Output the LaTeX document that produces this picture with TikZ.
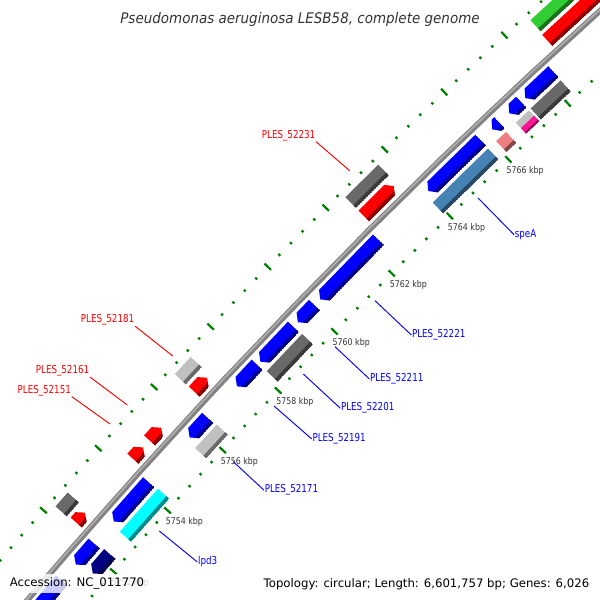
\documentclass[tikz,border=0pt]{standalone}
\usepackage{fontspec}
\setmainfont{DejaVu Sans}
\newfontfamily\genefont[FakeStretch=0.8]{DejaVu Sans}
\newfontfamily\tickfont[FakeStretch=0.85]{DejaVu Sans}
\newfontfamily\titlefont[FakeStretch=0.92]{DejaVu Sans}
\usepackage{xcolor}
\usepackage{tikz}

\definecolor{genered}{RGB}{255,0,0}
\definecolor{geneblue}{RGB}{0,0,255}
\definecolor{genenavy}{RGB}{0,0,128}
\definecolor{genedim}{RGB}{105,105,105}
\definecolor{genesilver}{RGB}{192,192,192}
\definecolor{genecyan}{RGB}{0,255,255}
\definecolor{genesteel}{RGB}{70,130,180}
\definecolor{genecoral}{RGB}{240,128,128}
\definecolor{genepink}{RGB}{255,20,147}
\definecolor{genelime}{RGB}{50,205,50}
\definecolor{tickgreen}{RGB}{0,128,0}

\def\rzero{6311}
\def\thzero{135.86}
\def\kdeg{0.373}
\def\kpx{41.09}

\newcommand{\gene}[6][7.5]{%
  \pgfmathsetmacro\gth{\thzero-\kdeg*(#2-5760)}%
  \pgfmathsetmacro\glen{\kpx*(#3-#2)}%
  \pgfmathsetmacro\glo{#4-#1}%
  \pgfmathsetmacro\ghi{#4+#1}%
  \pgfmathsetmacro\gbev{#4-#1/2}%
  \pgfmathsetmacro\ghd{min(6,\glen)}%
  \begin{scope}[shift={(O)},shift={(\gth:\rzero)},rotate=\gth-90]
    \ifnum#6=1\relax
      \clip (0,\glo) -- (\glen-\ghd,\glo) -- (\glen,#4) -- (\glen-\ghd,\ghi) -- (0,\ghi) -- cycle;
    \else\ifnum#6=-1\relax
      \clip (\glen,\glo) -- (\ghd,\glo) -- (0,#4) -- (\ghd,\ghi) -- (\glen,\ghi) -- cycle;
    \else
      \clip (0,\glo) rectangle (\glen,\ghi);
    \fi\fi
    \fill[#5] (0,\glo) rectangle (\glen,\ghi);
    \fill[#5!55!black] (0,\glo) rectangle (\glen,\gbev);
  \end{scope}}

\begin{document}
\begin{tikzpicture}[x=0.03cm,y=0.03cm]
  \tikzstyle{backbone}=[draw={rgb,255:red,130;green,130;blue,130},line width=4.9pt]
  \tikzstyle{backlight}=[draw={rgb,255:red,175;green,175;blue,175},line width=1.4pt]
  \tikzstyle{tickmark}=[draw=tickgreen,line width=1.9pt]
  \tikzstyle{ticklab}=[font=\tickfont\fontsize{7.9}{9}\selectfont,text=black!80,inner sep=0pt]
  \tikzstyle{redlab}=[font=\genefont\fontsize{9.3}{11}\selectfont,text=red,inner sep=0.5pt]
  \tikzstyle{bluelab}=[font=\genefont\fontsize{9.3}{11}\selectfont,text=blue,inner sep=0.5pt]
  \tikzstyle{redlead}=[draw=red,line width=0.8pt]
  \tikzstyle{bluelead}=[draw=blue,line width=0.8pt]
  \tikzstyle{info}=[font=\fontsize{10}{12}\selectfont,fill=white,fill opacity=0.8,text opacity=1,inner xsep=4.3pt,inner ysep=3.4pt]

  \useasboundingbox (0,0) rectangle (600,600);
  \clip (0,0) rectangle (600,600);
  \coordinate (O) at (4830,-4094);

  \begin{scope}[shift={(O)}]
    \foreach \k in {0,...,60}{
      \pgfmathsetmacro\tth{\thzero-\kdeg*(0.4*\k-12)}
      \pgfmathtruncatemacro\tmaj{mod(\k,5)==0}
      \ifnum\tmaj=1 \def\tl{4.5}\else\def\tl{1.3}\fi
      \pgfmathsetmacro\ria{6264.5-\tl}\pgfmathsetmacro\rib{6264.5+\tl}
      \pgfmathsetmacro\roa{6357.5-\tl}\pgfmathsetmacro\rob{6357.5+\tl}
      \draw[tickmark] (\tth:\ria) -- (\tth:\rib);
      \draw[tickmark] (\tth:\roa) -- (\tth:\rob);
    }
    \draw[backbone] plot[variable=\t,domain=131.2:140.5,samples=50] (\t:\rzero);
    \draw[backlight] plot[variable=\t,domain=131.2:140.5,samples=50] (\t:\rzero+0.9);
  \end{scope}

  \gene{5749.00}{5751.00}{-13.8}{geneblue}{-1}
  \gene{5751.52}{5752.20}{-13.8}{geneblue}{-1}
  \gene{5752.92}{5754.20}{-13.8}{geneblue}{-1}
  \gene{5755.68}{5756.33}{-13.8}{geneblue}{-1}
  \gene{5757.38}{5758.10}{-13.8}{geneblue}{-1}
  \gene{5758.21}{5759.38}{-13.8}{geneblue}{-1}
  \gene{5759.54}{5760.12}{-13.8}{geneblue}{-1}
  \gene{5760.32}{5762.35}{-13.8}{geneblue}{-1}
  \gene{5764.05}{5765.83}{-13.8}{geneblue}{-1}
  \gene{5766.22}{5766.46}{-13.8}{geneblue}{-1}
  \gene{5766.79}{5767.19}{-13.8}{geneblue}{-1}
  \gene{5767.33}{5768.27}{-13.8}{geneblue}{-1}

  \gene{5751.63}{5752.26}{-32.5}{genenavy}{-1}
  \gene{5752.83}{5754.23}{-32.5}{genecyan}{0}
  \gene{5755.58}{5756.36}{-32.5}{genesilver}{0}
  \gene{5758.15}{5759.40}{-32.5}{genedim}{0}
  \gene{5763.93}{5765.81}{-32.5}{genesteel}{0}
  \gene{5766.09}{5766.42}{-32.5}{genecoral}{0}
  \gene{5766.75}{5767.19}{-32.5}{genesilver}{0}
  \gene[3.75]{5766.75}{5767.19}{-36.25}{genepink}{0}
  \gene{5767.25}{5768.25}{-32.5}{genedim}{0}

  \gene{5752.30}{5752.62}{13.8}{genered}{1}
  \gene{5754.37}{5754.74}{13.8}{genered}{1}
  \gene{5754.97}{5755.39}{13.8}{genered}{1}
  \gene{5756.58}{5757.04}{13.8}{genered}{1}
  \gene{5762.51}{5763.54}{13.8}{genered}{1}
  \gene{5768.68}{5771.00}{13.8}{genered}{1}

  \gene{5752.26}{5752.71}{32.5}{genedim}{0}
  \gene{5756.57}{5757.14}{32.5}{genesilver}{0}
  \gene{5762.51}{5763.64}{32.5}{genedim}{0}
  \gene{5768.71}{5771.00}{32.5}{genelime}{0}

  \begin{scope}[shift={(O)}]
    \foreach \p in {5752,5754,...,5766}{
      \pgfmathsetmacro\tth{\thzero-\kdeg*(\p-5760)}
      \node[ticklab,anchor=north west,shift={(-2,-7)}] (k\p) at (\tth:6264.5) {\p\ kbp};
    }
  \end{scope}

  \node[redlab,anchor=base east]	(n52231)	at (316,461.7)	{PLES\_52231};
  \node[redlab,anchor=base east]	(n52181)	at (135,277.3)	{PLES\_52181};
  \node[redlab,anchor=base east]	(n52161)	at (90,226.3)	{PLES\_52161};
  \node[redlab,anchor=base east]	(n52151)	at (71.7,206.8)	{PLES\_52151};

  \node[bluelab,anchor=base west]	(nspeA)		at (514,362.5)	{speA};
  \node[bluelab,anchor=base west]	(n52221)	at (411.3,262.3)	{PLES\_52221};
  \node[bluelab,anchor=base west]	(n52211)	at (369.3,218.3)	{PLES\_52211};
  \node[bluelab,anchor=base west]	(n52201)	at (340.3,189)	{PLES\_52201};
  \node[bluelab,anchor=base west]	(n52191)	at (311.7,158.3)	{PLES\_52191};
  \node[bluelab,anchor=base west]	(n52171)	at (264,107)	{PLES\_52171};
  \node[bluelab,anchor=base west]	(nlpd3)		at (197.3,35)	{lpd3};

  \coordinate (t52231) at (350,429);
  \coordinate (t52181) at (172.7,244);
  \coordinate (t52161) at (127.3,195);
  \coordinate (t52151) at (110,176);
  \coordinate (tspeA) at (478,402);
  \coordinate (t52221) at (375,299.3);
  \coordinate (t52211) at (335,253.3);
  \coordinate (t52201) at (303.3,226);
  \coordinate (t52191) at (274,194);
  \coordinate (t52171) at (233.3,138.3);
  \coordinate (tlpd3) at (159.3,69);

  \draw[redlead] (n52231.south east) -- (t52231);
  \draw[redlead] (n52181.south east) -- (t52181);
  \draw[redlead] (n52161.south east) -- (t52161);
  \draw[redlead] (n52151.south east) -- (t52151);
  \draw[bluelead] (tspeA) -- (nspeA.west);
  \draw[bluelead] (t52221) -- (n52221.west);
  \draw[bluelead] (t52211) -- (n52211.west);
  \draw[bluelead] (t52201) -- (n52201.west);
  \draw[bluelead] (t52191) -- (n52191.west);
  \draw[bluelead] (t52171) -- (n52171.west);
  \draw[bluelead] (tlpd3) -- (nlpd3.west);

  \node[info,anchor=base west] (acc) at (4.5,13.3) {Accession: NC\_011770};
  \node[info,anchor=base east] (topo) at (594.5,12.7) {Topology: circular; Length: 6,601,757 bp; Genes: 6,026};
  \node[font=\titlefont\itshape\fontsize{12.5}{15}\selectfont,text=black!80,anchor=base] (title) at (300,576.7) {Pseudomonas aeruginosa LESB58, complete genome};
\end{tikzpicture}
\end{document}
